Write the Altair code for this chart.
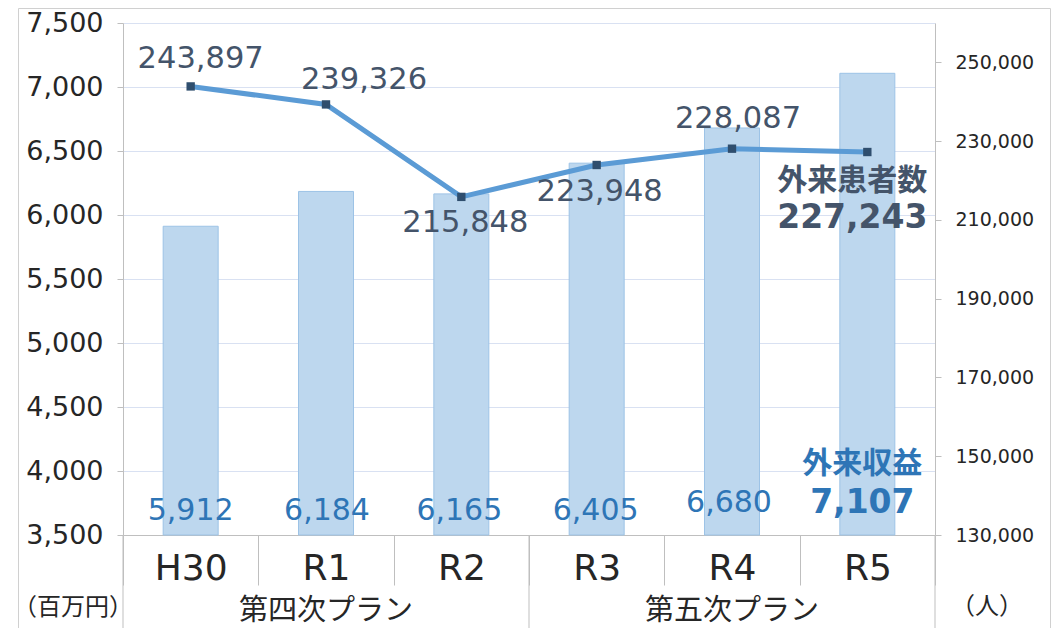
import altair as alt
import pandas as pd

# ---- data ----
categories = ["H30", "R1", "R2", "R3", "R4", "R5"]
revenue = [5912, 6184, 6165, 6405, 6680, 7107]            # 外来収益 (百万円)
patients = [243897, 239326, 215848, 223948, 228087, 227243]  # 外来患者数 (人)
plan_groups = ["第四次プラン", "第四次プラン", "第四次プラン",
               "第五次プラン", "第五次プラン", "第五次プラン"]
group_names = ["第四次プラン", "第五次プラン"]
left_ticks = [3500, 4000, 4500, 5000, 5500, 6000, 6500, 7000, 7500]
right_ticks = [130000, 150000, 170000, 190000, 210000, 230000, 250000]
left_domain = [3500, 7500]
right_domain = [130000, 260000]
left_unit = "（百万円）"
right_unit = "（人）"
revenue_title = "外来収益"
patients_title = "外来患者数"

# ---- styling ----
NUM_FONT = "DejaVu Sans"
JP_FONT = "Noto Sans CJK JP"
BAR_FILL = "#BDD7EE"
BAR_STROKE = "#9DC3E6"
LINE_COLOR = "#5B9BD5"
MARKER_COLOR = "#2F4E6E"
LINE_LABEL = "#44546A"
BAR_LABEL = "#2E75B6"
AXIS_GRAY = "#bfbfbf"
GRID = "#d9e1f2"
TEXT = "#262626"
W, H = 812, 512
COMMA = "format(datum.value, ',')"

df = pd.DataFrame({
    "cat": categories,
    "rev": revenue,
    "pat": patients,
    "grp": plan_groups,
    "base": [left_domain[0]] * len(categories),
})

group_centers = []
for name in group_names:
    members = [c for c, g in zip(categories, plan_groups) if g == name]
    group_centers.append(members[len(members) // 2])
grp_df = pd.DataFrame({"cat": group_centers, "grp": group_names})
grp_start_df = pd.DataFrame({"cat": [next(c for c, g in zip(categories, plan_groups) if g == n) for n in group_names]})
one = pd.DataFrame({"k": [0]})

x_scale = alt.Scale(domain=categories, paddingInner=0, paddingOuter=0)
x_axis = alt.Axis(
    title=None, orient="bottom", labelAngle=0,
    labelFont=NUM_FONT, labelFontSize=36, labelColor=TEXT,
    labelBaseline="middle", labelPadding=-17,
    tickBand="extent", tickSize=50, tickColor=AXIS_GRAY,
    domainColor=AXIS_GRAY, grid=False,
)


def xe(**kw):
    return alt.X("cat:N", sort=categories, scale=x_scale, axis=x_axis, **kw)


left_scale = alt.Scale(domain=left_domain, nice=False, zero=False)
left_axis = alt.Axis(
    title=None, orient="left", values=left_ticks, labelExpr=COMMA,
    labelFont=NUM_FONT, labelFontSize=27, labelColor=TEXT, labelPadding=14,
    tickSize=6, tickColor=AXIS_GRAY, domainColor=AXIS_GRAY,
    grid=True, gridColor=GRID,
)
right_scale = alt.Scale(domain=right_domain, nice=False, zero=False)
right_axis = alt.Axis(
    title=None, orient="right", values=right_ticks, labelExpr=COMMA,
    labelFont=NUM_FONT, labelFontSize=19, labelColor=TEXT, labelPadding=14,
    tickSize=6, tickColor=AXIS_GRAY, domainColor=AXIS_GRAY, grid=False,
)


def yl(field):
    return alt.Y(field, scale=left_scale, axis=left_axis)


def yr(field):
    return alt.Y(field, scale=right_scale, axis=right_axis)


base = alt.Chart(df)

bars = base.mark_bar(size=55, color=BAR_FILL, stroke=BAR_STROKE, strokeWidth=1).encode(
    x=xe(), y=yl("rev:Q"), y2="base:Q"
)

# revenue labels near the bottom of each bar
bar_label_layers = []
bar_offsets = {"H30": (0, -24), "R1": (1, -24), "R2": (-2, -24), "R3": (-1, -24), "R4": (-3, -32)}
for c, (dx, dy) in bar_offsets.items():
    bar_label_layers.append(
        base.transform_filter(alt.datum.cat == c).mark_text(
            font=NUM_FONT, fontSize=30, color=BAR_LABEL, baseline="middle", dx=dx, dy=dy
        ).encode(x=xe(), y=yl("base:Q"), text=alt.Text("rev:Q", format=","))
    )
last = categories[-1]
bar_label_layers.append(
    base.transform_filter(alt.datum.cat == last).mark_text(
        font=NUM_FONT, fontSize=33, fontWeight="bold", color=BAR_LABEL, baseline="middle", dx=-5, dy=-32
    ).encode(x=xe(), y=yl("base:Q"), text=alt.Text("rev:Q", format=","))
)
bar_label_layers.append(
    base.transform_filter(alt.datum.cat == last).mark_text(
        font=JP_FONT, fontSize=30, fontWeight="bold", color=BAR_LABEL, baseline="middle", dx=-5, dy=-71
    ).encode(x=xe(), y=yl("base:Q"), text=alt.value(revenue_title))
)

# bottom decorations (separators, group labels, units, outer frame)
sep_start = alt.Chart(grp_start_df).mark_rule(color=AXIS_GRAY, strokeWidth=1).encode(
    x=xe(bandPosition=0), y=alt.value(H), y2=alt.value(H + 110)
)
sep_end = alt.Chart(pd.DataFrame({"cat": [last]})).mark_rule(color=AXIS_GRAY, strokeWidth=1).encode(
    x=xe(bandPosition=1), y=alt.value(H), y2=alt.value(H + 110)
)
group_text = alt.Chart(grp_df).mark_text(
    font=JP_FONT, fontSize=29, color=TEXT, baseline="middle"
).encode(x=xe(), y=alt.value(H + 76), text="grp:N")
unit_left = alt.Chart(one).mark_text(
    font=JP_FONT, fontSize=24, color=TEXT, baseline="middle"
).encode(x=alt.value(-50), y=alt.value(H + 73), text=alt.value(left_unit))
unit_right = alt.Chart(one).mark_text(
    font=JP_FONT, fontSize=24, color=TEXT, baseline="middle"
).encode(x=alt.value(W + 52), y=alt.value(H + 72), text=alt.value(right_unit))
frame_l = alt.Chart(one).mark_rule(color="#d0d0d0", strokeWidth=1).encode(
    x=alt.value(-104.5), y=alt.value(-14.5), y2=alt.value(H + 110)
)
frame_t = alt.Chart(one).mark_rule(color="#d0d0d0", strokeWidth=1).encode(
    x=alt.value(-104.5), x2=alt.value(W + 115.5), y=alt.value(-14.5)
)
frame_r = alt.Chart(one).mark_rule(color="#d0d0d0", strokeWidth=1).encode(
    x=alt.value(W + 115.5), y=alt.value(-14.5), y2=alt.value(H + 110)
)

left_group = alt.layer(
    bars, *bar_label_layers, sep_start, sep_end, group_text, unit_left, unit_right,
    frame_l, frame_t, frame_r
)

# patients line
line = base.mark_line(color=LINE_COLOR, strokeWidth=5).encode(x=xe(), y=yr("pat:Q"))
points = base.mark_point(shape="square", filled=True, size=70, color=MARKER_COLOR, opacity=1).encode(
    x=xe(), y=yr("pat:Q")
)
line_label_layers = []
line_offsets = {"H30": (10, -27), "R1": (38, -24), "R2": (4, 26), "R3": (3, 27), "R4": (6, -30)}
for c, (dx, dy) in line_offsets.items():
    line_label_layers.append(
        base.transform_filter(alt.datum.cat == c).mark_text(
            font=NUM_FONT, fontSize=30.5, color=LINE_LABEL, baseline="middle", dx=dx, dy=dy
        ).encode(x=xe(), y=yr("pat:Q"), text=alt.Text("pat:Q", format=","))
    )
line_label_layers.append(
    base.transform_filter(alt.datum.cat == last).mark_text(
        font=JP_FONT, fontSize=30, fontWeight="bold", color=LINE_LABEL, baseline="middle", dx=-15, dy=29
    ).encode(x=xe(), y=yr("pat:Q"), text=alt.value(patients_title))
)
line_label_layers.append(
    base.transform_filter(alt.datum.cat == last).mark_text(
        font=NUM_FONT, fontSize=33, fontWeight="bold", color=LINE_LABEL, baseline="middle", dx=-15, dy=66
    ).encode(x=xe(), y=yr("pat:Q"), text=alt.Text("pat:Q", format=","))
)

right_group = alt.layer(line, points, *line_label_layers)

chart = (
    alt.layer(left_group, right_group)
    .resolve_scale(y="independent")
    .properties(
        width=W, height=H,
        autosize=alt.AutoSizeParams(type="none"),
        padding={"left": 115, "top": 15, "right": 116, "bottom": 93},
        background="white",
    )
    .configure_view(stroke=None)
)

chart.save("out.html", embed_options={"renderer": "svg", "actions": False})
